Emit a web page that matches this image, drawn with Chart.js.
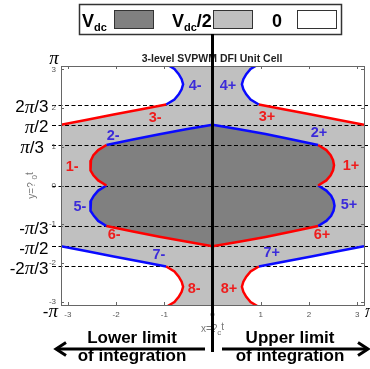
<!DOCTYPE html>
<html><head><meta charset="utf-8">
<script src="https://cdn.jsdelivr.net/npm/chart.js@4/dist/chart.umd.min.js"></script>
<style>html,body{margin:0;padding:0;background:#fff;}canvas{display:block;}</style>
</head><body>
<canvas id="c" width="370" height="369"></canvas>
<script>
const PI = Math.PI;
const X_MIN = -PI, X_MAX = PI, Y_MIN = -3.09, Y_MAX = 3.09;
const xTicks = [-3, -2, -1, 0, 1, 2, 3];
const yTicks = [-3, -2, -1, 0, 1, 2, 3];
const xTickLabels = ['-3', '-2', '-1', '0', '1', '2', '3'];
const yTickLabels = ['-3', '-2', '-1', '0', '1', '2', '3'];
const refLevels = [2 * PI / 3, PI / 2, PI / 3, 0, -PI / 3, -PI / 2, -2 * PI / 3];
const piLabelValues = [PI, 2 * PI / 3, PI / 2, PI / 3, -PI / 3, -PI / 2, -2 * PI / 3, -PI];
const piLabelTexts = ['π', '2π/3', 'π/2', 'π/3', '-π/3', '-π/2', '-2π/3', '-π'];

// boundary curves [x, y]
const curve1Minus = [[-2.20,1.047],[-2.37,0.916],[-2.47,0.785],[-2.52,0.654],[-2.54,0.524],[-2.52,0.393],[-2.47,0.262],[-2.37,0.131],[-2.20,0]];
const curve1Plus  = [[2.19,1.047],[2.36,0.916],[2.45,0.785],[2.50,0.654],[2.52,0.524],[2.50,0.393],[2.45,0.262],[2.36,0.131],[2.19,0]];
const curve5Minus = [[-2.20,0],[-2.37,-0.131],[-2.46,-0.262],[-2.52,-0.393],[-2.54,-0.524],[-2.52,-0.654],[-2.46,-0.785],[-2.37,-0.916],[-2.20,-1.047]];
const curve5Plus  = [[2.19,0],[2.36,-0.131],[2.46,-0.262],[2.51,-0.393],[2.53,-0.524],[2.51,-0.654],[2.46,-0.785],[2.36,-0.916],[2.19,-1.047]];
const curve2Minus = [[-2.20,1.047],[-1.65,1.19],[-1.10,1.325],[-0.55,1.455],[0,1.571]];
const curve2Plus  = [[0,1.571],[0.55,1.455],[1.10,1.33],[1.65,1.19],[2.19,1.047]];
const curve6Minus = [[-2.20,-1.047],[-1.65,-1.19],[-1.10,-1.325],[-0.55,-1.45],[0,-1.571]];
const curve6Plus  = [[0,-1.571],[0.55,-1.455],[1.10,-1.33],[1.65,-1.19],[2.19,-1.047]];
const curve3Minus = [[-3.1416,1.571],[-2.60,1.70],[-2.05,1.835],[-1.50,1.965],[-0.96,2.094]];
const curve3Plus  = [[0.96,2.094],[1.50,1.965],[2.05,1.835],[2.60,1.70],[3.1416,1.571]];
const curve7Minus = [[-3.1416,-1.571],[-2.60,-1.70],[-2.05,-1.835],[-1.50,-1.965],[-0.96,-2.094]];
const curve7Plus  = [[0.96,-2.094],[1.50,-1.965],[2.05,-1.835],[2.60,-1.70],[3.1416,-1.571]];
const curve4Minus = [[-0.96,2.094],[-0.79,2.225],[-0.70,2.356],[-0.64,2.487],[-0.61,2.618],[-0.64,2.749],[-0.70,2.880],[-0.79,3.011],[-0.96,3.142]];
const curve4Plus  = [[0.96,2.094],[0.79,2.225],[0.70,2.356],[0.64,2.487],[0.61,2.618],[0.64,2.749],[0.70,2.880],[0.79,3.011],[0.96,3.142]];
const curve8Minus = [[-0.96,-2.094],[-0.79,-2.225],[-0.70,-2.356],[-0.64,-2.487],[-0.61,-2.618],[-0.64,-2.749],[-0.70,-2.880],[-0.79,-3.011],[-0.96,-3.142]];
const curve8Plus  = [[0.96,-2.094],[0.79,-2.225],[0.70,-2.356],[0.64,-2.487],[0.61,-2.618],[0.64,-2.749],[0.70,-2.880],[0.79,-3.011],[0.96,-3.142]];

const regionLabels = ['1-','2-','3-','4-','5-','6-','7-','8-','1+','2+','3+','4+','5+','6+','7+','8+'];
const regionLabelX = [-2.91,-2.06,-1.19,-0.36,-2.75,-2.04,-1.11,-0.38, 2.87,2.21,1.13,0.32,2.83,2.27,1.23,0.34];
const regionLabelY = [0.48,1.28,1.75,2.57,-0.56,-1.28,-1.80,-2.68, 0.50,1.36,1.77,2.57,-0.50,-1.28,-1.75,-2.68];

const RED = '#ff0000', BLUE = '#0a0aff';
const RED_TXT = '#ee1c1c', BLUE_TXT = '#3b2bd9';
const DARK = '#808080', LIGHT = '#c0c0c0';

const pts = a => a.map(p => ({x: p[0], y: p[1]}));
const rev = a => a.slice().reverse();
const darkPoly = [].concat(curve2Minus, curve2Plus.slice(1), curve1Plus.slice(1), curve5Plus.slice(1),
  rev(curve6Plus).slice(1), rev(curve6Minus).slice(1), rev(curve5Minus).slice(1), rev(curve1Minus).slice(1, -1));
const whiteTL = [].concat(curve3Minus, curve4Minus.slice(1), [[X_MIN, 3.142]]);
const whiteTR = [].concat(curve4Plus, [[X_MAX, 3.142]], rev(curve3Plus).slice(0, -1));
const whiteBL = [].concat(curve7Minus, curve8Minus.slice(1), [[X_MIN, -3.142]]);
const whiteBR = [].concat(curve8Plus, [[X_MAX, -3.142]], rev(curve7Plus).slice(0, -1));
const cellRect = [[X_MIN, Y_MIN], [X_MAX, Y_MIN], [X_MAX, Y_MAX], [X_MIN, Y_MAX]];

function curveDs(arr, color) {
  return {data: pts(arr), borderColor: color, borderWidth: 2.5, fill: false, pointRadius: 0, tension: 0, order: 1};
}
function polyDs(arr, color, order, label) {
  return {label: label, data: pts(arr), borderColor: 'rgba(0,0,0,0)', borderWidth: 0, backgroundColor: color,
    fill: 'shape', pointRadius: 0, tension: 0, order: order};
}

const datasets = [
  curveDs(curve1Minus, RED), curveDs(curve1Plus, RED), curveDs(curve3Minus, RED), curveDs(curve3Plus, RED),
  curveDs(curve6Minus, RED), curveDs(curve6Plus, RED), curveDs(curve8Minus, RED), curveDs(curve8Plus, RED),
  curveDs(curve2Minus, BLUE), curveDs(curve2Plus, BLUE), curveDs(curve4Minus, BLUE), curveDs(curve4Plus, BLUE),
  curveDs(curve5Minus, BLUE), curveDs(curve5Plus, BLUE), curveDs(curve7Minus, BLUE), curveDs(curve7Plus, BLUE),
  polyDs(darkPoly, DARK, 2, 'Vdc'),
  polyDs(whiteTL, '#ffffff', 3, 'zeroTL'), polyDs(whiteTR, '#ffffff', 3, 'zeroTR'),
  polyDs(whiteBL, '#ffffff', 3, 'zeroBL'), polyDs(whiteBR, '#ffffff', 3, 'zeroBR'),
  polyDs(cellRect, LIGHT, 4, 'Vdc2')
];

function rich(ctx, parts, x, y, align) {
  let w = 0;
  parts.forEach(p => { ctx.font = p[1]; w += ctx.measureText(p[0]).width; });
  let cx = align === 'right' ? x - w : align === 'center' ? x - w / 2 : x;
  ctx.textAlign = 'left';
  parts.forEach(p => { ctx.font = p[1]; ctx.fillText(p[0], cx, y + (p[2] || 0)); cx += ctx.measureText(p[0]).width; });
}
const SANS = '"Liberation Sans", Arial, sans-serif';
function piParts(t) {
  const out = [];
  t.split(/(π)/).forEach(s => {
    if (!s) return;
    if (s === 'π') out.push([s, 'italic 19px "Liberation Serif", serif']);
    else out.push([s, '17px ' + SANS]);
  });
  return out;
}

const overlay = {
  id: 'overlay',
  afterDatasetDraw(chart, args) {
    const ds = chart.data.datasets[args.index];
    if (ds.label !== 'Vdc') return;
    const ctx = chart.ctx, ys = chart.scales.y, a = chart.chartArea;
    ctx.save();
    ctx.strokeStyle = '#000'; ctx.lineWidth = 1.2; ctx.setLineDash([4, 2.5]);
    refLevels.forEach(v => {
      const py = Math.round(ys.getPixelForValue(v)) + 0.5;
      ctx.beginPath(); ctx.moveTo(a.left - 9, py); ctx.lineTo(a.right + 5, py); ctx.stroke();
    });
    ctx.restore();
  },
  afterDraw(chart) {
    const ctx = chart.ctx, xs = chart.scales.x, ys = chart.scales.y, a = chart.chartArea;
    ctx.save();
    // frame
    ctx.strokeStyle = '#666'; ctx.lineWidth = 1;
    ctx.strokeRect(Math.round(a.left) + 0.5, Math.round(a.top) + 0.5, Math.round(a.right - a.left), Math.round(a.bottom - a.top));
    // ticks
    ctx.beginPath();
    xTicks.forEach(v => {
      const px = Math.round(xs.getPixelForValue(v)) + 0.5;
      ctx.moveTo(px, a.bottom); ctx.lineTo(px, a.bottom - 3);
      ctx.moveTo(px, a.top); ctx.lineTo(px, a.top + 3);
    });
    yTicks.forEach(v => {
      const py = Math.round(ys.getPixelForValue(v)) + 0.5;
      ctx.moveTo(a.left, py); ctx.lineTo(a.left + 3, py);
      ctx.moveTo(a.right, py); ctx.lineTo(a.right - 3, py);
    });
    ctx.stroke();
    // tick labels
    ctx.fillStyle = '#555'; ctx.font = '8px ' + SANS; ctx.textBaseline = 'middle';
    ctx.textAlign = 'center';
    xTicks.forEach((v, i) => ctx.fillText(xTickLabels[i], xs.getPixelForValue(v), a.bottom + 10));
    ctx.textAlign = 'right';
    yTicks.forEach((v, i) => ctx.fillText(yTickLabels[i], a.left - 5, ys.getPixelForValue(v)));
    // axis titles
    ctx.fillStyle = '#777';
    ctx.textBaseline = 'alphabetic';
    rich(ctx, [['x=?', '10px ' + SANS], ['c', '8px ' + SANS, 3], ['t', '10px ' + SANS, -2]], xs.getPixelForValue(0), a.bottom + 27, 'center');
    ctx.save();
    ctx.translate(35, (a.top + a.bottom) / 2);
    ctx.rotate(-Math.PI / 2);
    rich(ctx, [['y=? ', '10px ' + SANS], ['0', '8px ' + SANS, 2], ['t', '10px ' + SANS, -2]], 0, 0, 'center');
    ctx.restore();
    // pi labels
    ctx.fillStyle = '#000'; ctx.textBaseline = 'middle';
    piLabelValues.forEach((v, i) => {
      const py = ys.getPixelForValue(v);
      const t = piLabelTexts[i];
      if (i === 0) rich(ctx, piParts(t), 54, py - 5, 'center');
      else if (i === piLabelValues.length - 1) rich(ctx, piParts(t), 58, py + 5, 'right');
      else if (t === 'π/3') rich(ctx, piParts(t), 44, py + 3, 'right');
      else rich(ctx, piParts(t), 48.5, py + 3, 'right');
    });
    rich(ctx, piParts('π'), 365, ys.getPixelForValue(-PI) + 5, 'left');
    // title
    ctx.fillStyle = '#222'; ctx.textAlign = 'center'; ctx.textBaseline = 'alphabetic';
    ctx.font = 'bold 10.5px ' + SANS;
    ctx.fillText('3-level SVPWM DFI Unit Cell', 212, 62);
    // region labels
    ctx.font = 'bold 14.5px ' + SANS; ctx.textBaseline = 'middle'; ctx.textAlign = 'center';
    regionLabels.forEach((t, i) => {
      const n = t[0];
      ctx.fillStyle = (n === '1' || n === '3' || n === '6' || n === '8') ? RED_TXT : BLUE_TXT;
      ctx.fillText(t, xs.getPixelForValue(regionLabelX[i]), ys.getPixelForValue(regionLabelY[i]));
    });
    // legend box
    ctx.fillStyle = '#fff'; ctx.fillRect(79, 4, 262, 30);
    ctx.strokeStyle = '#333'; ctx.lineWidth = 1.5; ctx.strokeRect(79.5, 4.5, 262, 30);
    ctx.lineWidth = 1; ctx.strokeStyle = '#333';
    [[114, DARK], [213, LIGHT], [297, '#fff']].forEach(s => {
      ctx.fillStyle = s[1]; ctx.fillRect(s[0], 10, 39, 18);
      ctx.strokeRect(s[0] + 0.5, 10.5, 39, 18);
    });
    ctx.fillStyle = '#000'; ctx.textBaseline = 'alphabetic';
    rich(ctx, [['V', 'bold 18px ' + SANS], ['dc', 'bold 11px ' + SANS, 4]], 82, 27, 'left');
    rich(ctx, [['V', 'bold 18px ' + SANS], ['dc', 'bold 11px ' + SANS, 4], ['/2', 'bold 18px ' + SANS]], 172, 27, 'left');
    ctx.font = 'bold 18px ' + SANS; ctx.textAlign = 'center';
    ctx.fillText('0', 277, 27);
    // vertical line at x = 0
    const x0 = xs.getPixelForValue(0);
    ctx.strokeStyle = '#000'; ctx.lineWidth = 3;
    ctx.beginPath(); ctx.moveTo(x0, 34); ctx.lineTo(x0, 352); ctx.stroke();
    // arrows
    ctx.lineWidth = 3; ctx.lineCap = 'butt';
    ctx.beginPath(); ctx.moveTo(57, 349); ctx.lineTo(205, 349); ctx.stroke();
    ctx.beginPath(); ctx.moveTo(66, 342.5); ctx.lineTo(56, 349); ctx.lineTo(66, 355.5); ctx.stroke();
    ctx.beginPath(); ctx.moveTo(222, 349); ctx.lineTo(366, 349); ctx.stroke();
    ctx.beginPath(); ctx.moveTo(358, 342.5); ctx.lineTo(368, 349); ctx.lineTo(358, 355.5); ctx.stroke();
    // integration texts
    ctx.fillStyle = '#000'; ctx.font = 'bold 17px ' + SANS; ctx.textAlign = 'center';
    ctx.fillText('Lower limit', 132, 343);
    ctx.fillText('of integration', 132, 361);
    ctx.fillText('Upper limit', 290, 343);
    ctx.fillText('of integration', 290, 361);
    ctx.restore();
  }
};

new Chart(document.getElementById('c'), {
  type: 'line',
  data: {datasets: datasets},
  options: {
    responsive: false, animation: false, devicePixelRatio: 1,
    layout: {padding: {left: 61, right: 6, top: 66, bottom: 64}},
    plugins: {legend: {display: false}, tooltip: {enabled: false}, title: {display: false}},
    scales: {
      x: {type: 'linear', min: X_MIN, max: X_MAX, display: false},
      y: {type: 'linear', min: Y_MIN, max: Y_MAX, display: false}
    }
  },
  plugins: [overlay]
});
</script>
</body></html>
